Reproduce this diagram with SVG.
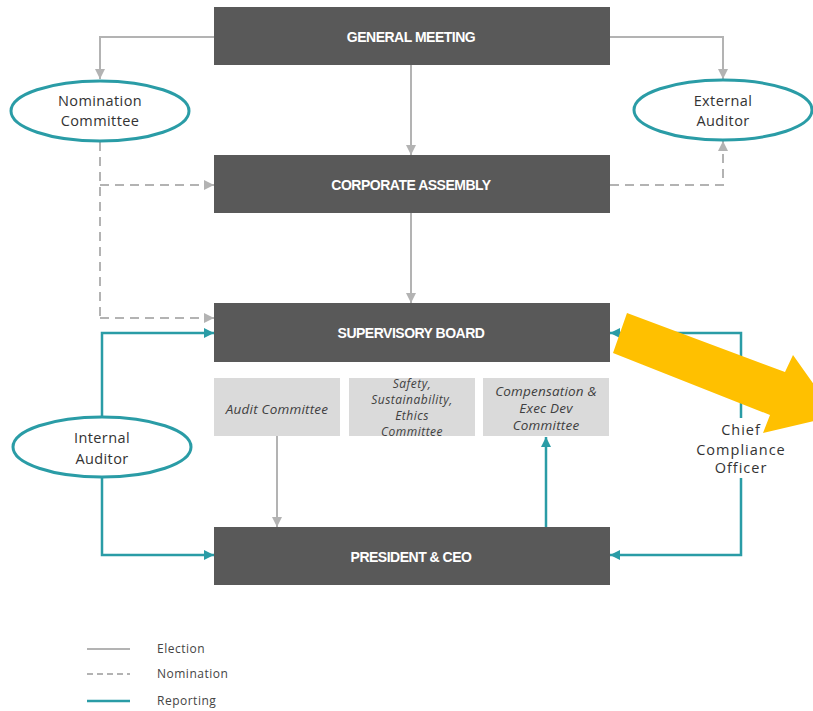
<svg xmlns="http://www.w3.org/2000/svg" width="813" height="711" viewBox="0 0 813 711">
<style>
.box{fill:#595959}
.cbox{fill:#dadada}
.bt{font-family:"Liberation Sans",Arial,sans-serif;font-weight:bold;font-size:14px;fill:#fff;text-anchor:middle;letter-spacing:-0.5px}
.ct{font-family:"Open Sans","Liberation Sans",sans-serif;font-style:italic;font-size:13.5px;fill:#404040;text-anchor:middle;letter-spacing:0.2px}
.cs{font-size:12px;letter-spacing:0.5px}
.ell{fill:#fff;stroke:#2a9ca6;stroke-width:3}
.et{font-family:"Open Sans","Liberation Sans",sans-serif;font-size:14.5px;fill:#333;text-anchor:middle;letter-spacing:0.4px}
.cc{letter-spacing:1px}
.el{fill:none;stroke:#b3b3b3;stroke-width:2}
.nm{fill:none;stroke:#b3b3b3;stroke-width:2;stroke-dasharray:9,6}
.rp{fill:none;stroke:#2a9ca6;stroke-width:2.5}
.lt{font-family:"Open Sans","Liberation Sans",sans-serif;font-size:12px;fill:#444;letter-spacing:0.5px}
</style>
<defs>
<marker id="ag" markerUnits="userSpaceOnUse" markerWidth="10" markerHeight="10" viewBox="0 0 10 10" refX="10" refY="5" orient="auto"><path d="M0,0 L10,5 L0,10 z" fill="#b3b3b3"/></marker>
<marker id="at" markerUnits="userSpaceOnUse" markerWidth="10" markerHeight="10" viewBox="0 0 10 10" refX="10" refY="5" orient="auto"><path d="M0,0 L10,5 L0,10 z" fill="#2a9ca6"/></marker>
</defs>
<g id="connectors">
<path class="el" d="M214,37 H100 V79" marker-end="url(#ag)"/>
<path class="el" d="M610,37 H723 V79" marker-end="url(#ag)"/>
<path class="el" d="M411,65 V155" marker-end="url(#ag)"/>
<path class="el" d="M411,213 V303" marker-end="url(#ag)"/>
<path class="nm" d="M100,142 V318"/>
<path class="nm" d="M100,185 H214" marker-end="url(#ag)"/>
<path class="nm" d="M100,318 H214" marker-end="url(#ag)"/>
<path class="nm" d="M610,185 H723 V141" marker-end="url(#ag)"/>
<path class="el" d="M277,436 V527" marker-end="url(#ag)"/>
<path class="rp" d="M102,417 V333 H214" marker-end="url(#at)"/>
<path class="rp" d="M102,478 V555 H214" marker-end="url(#at)"/>
<path class="rp" d="M546,527 V437" marker-end="url(#at)"/>
<path class="rp" d="M741,418 V333 H610" marker-end="url(#at)"/>
<path class="rp" d="M741,478 V555 H610" marker-end="url(#at)"/>
</g>
<g id="general-meeting"><rect class="box" x="214" y="7" width="396" height="58"/><text class="bt" x="411" y="42">GENERAL MEETING</text></g>
<g id="corporate-assembly"><rect class="box" x="214" y="155" width="396" height="58"/><text class="bt" x="411" y="190">CORPORATE ASSEMBLY</text></g>
<g id="supervisory-board"><rect class="box" x="214" y="303" width="396" height="59"/><text class="bt" x="411" y="338">SUPERVISORY BOARD</text></g>
<g id="president-ceo"><rect class="box" x="214" y="527" width="396" height="58"/><text class="bt" x="411" y="562">PRESIDENT &amp; CEO</text></g>
<g id="audit-committee"><rect class="cbox" x="214" y="378" width="126" height="58"/><text class="ct" x="277" y="414">Audit Committee</text></g>
<g id="safety-committee"><rect class="cbox" x="349" y="378" width="126" height="58"/><text class="ct cs" x="412" y="388">Safety,</text><text class="ct cs" x="412" y="404">Sustainability,</text><text class="ct cs" x="412" y="420">Ethics</text><text class="ct cs" x="412" y="436">Committee</text></g>
<g id="compensation-committee"><rect class="cbox" x="483" y="378" width="126" height="58"/><text class="ct" x="546" y="396">Compensation &amp;</text><text class="ct" x="546" y="413">Exec Dev</text><text class="ct" x="546" y="430">Committee</text></g>
<g id="nomination-committee"><ellipse class="ell" cx="100" cy="111" rx="89" ry="30"/><text class="et" x="100" y="106">Nomination</text><text class="et" x="100" y="126">Committee</text></g>
<g id="external-auditor"><ellipse class="ell" cx="723" cy="110" rx="89" ry="30"/><text class="et" x="723" y="106">External</text><text class="et" x="723" y="126">Auditor</text></g>
<g id="internal-auditor"><ellipse class="ell" cx="102" cy="447" rx="89" ry="30"/><text class="et" x="102" y="443">Internal</text><text class="et" x="102" y="464">Auditor</text></g>
<g id="chief-compliance-officer"><text class="et cc" x="741" y="435">Chief</text><text class="et cc" x="741" y="455">Compliance</text><text class="et cc" x="741" y="473">Officer</text></g>
<g id="highlight-arrow"><polygon points="627,313 785,372 793,355 836,416 763,433 770,415 613,353" fill="#ffc000"/></g>
<g id="legend">
<line class="el" x1="87" y1="649" x2="130" y2="649"/>
<line x1="87" y1="674" x2="130" y2="674" stroke="#b3b3b3" stroke-width="2" stroke-dasharray="6,4"/>
<line x1="87" y1="701" x2="130" y2="701" stroke="#2a9ca6" stroke-width="2.5"/>
<text class="lt" x="157" y="653">Election</text>
<text class="lt" x="157" y="678">Nomination</text>
<text class="lt" x="157" y="705">Reporting</text>
</g>
</svg>
